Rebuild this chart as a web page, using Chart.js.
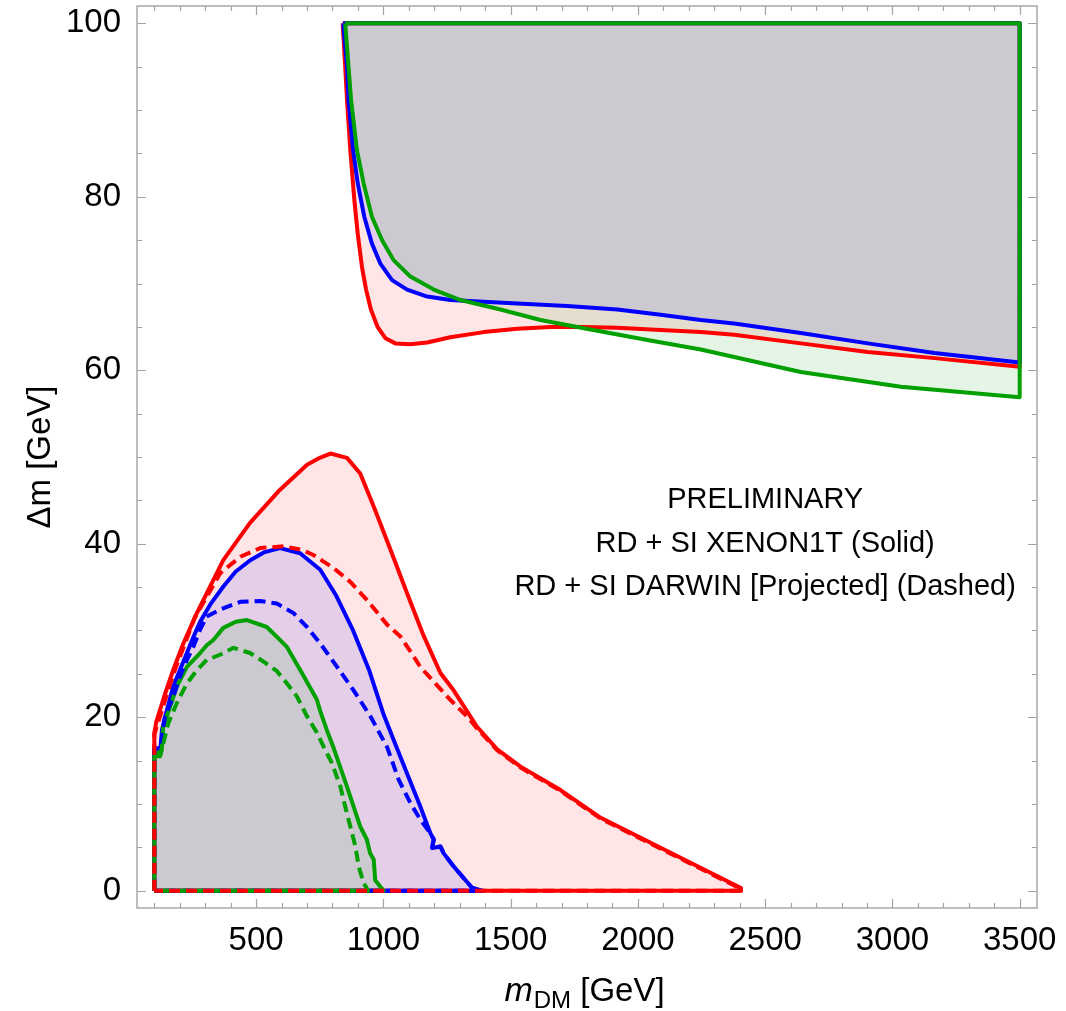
<!DOCTYPE html>
<html>
<head>
<meta charset="utf-8">
<script src="https://cdn.jsdelivr.net/npm/chart.js@4.4.0/dist/chart.umd.min.js"></script>
<style>
  html, body { margin: 0; padding: 0; background: #fff; }
  #wrap { width: 1066px; height: 1011px; }
</style>
</head>
<body>
<div id="wrap"><canvas id="dmChart" width="1066" height="1011"></canvas></div>
<script>
const fontFamily = "'Liberation Sans', Arial, sans-serif";

// axis ticks
const xMajorTicks = [500, 1000, 1500, 2000, 2500, 3000, 3500];
const xMinorTicks = [100, 200, 300, 400, 600, 700, 800, 900, 1100, 1200, 1300, 1400, 1600, 1700, 1800, 1900,
                     2100, 2200, 2300, 2400, 2600, 2700, 2800, 2900, 3100, 3200, 3300, 3400];
const yMajorTicks = [0, 20, 40, 60, 80, 100];
const yMinorTicks = [5, 10, 15, 25, 30, 35, 45, 50, 55, 65, 70, 75, 85, 90, 95];

// upper regions (boundary curve, then closed along top/right edge)
const redUpperX = [840, 850, 857, 870, 886, 899, 916, 932, 951, 977, 1008, 1047, 1106, 1172, 1263, 1394, 1526, 1657,
                   1788, 1919, 2050, 2247, 2378, 2640, 2903, 3165, 3500, 3500, 840];
const redUpperY = [100, 95.0, 91.2, 85.4, 79.6, 75.8, 71.9, 69.3, 67.0, 65.0, 63.7, 63.1, 63.0, 63.2, 63.8, 64.4, 64.8, 65.0,
                   65.0, 64.9, 64.7, 64.4, 64.1, 63.1, 62.1, 61.4, 60.4, 100, 100];

const blueUpperX = [842, 857, 863, 881, 899, 925, 955, 988, 1034, 1093, 1172, 1263, 1394, 1526, 1722, 1919, 2089, 2247,
                    2378, 2640, 2903, 3165, 3500, 3500, 842];
const blueUpperY = [100, 95.0, 91.2, 85.4, 81.6, 77.7, 74.6, 72.3, 70.4, 69.3, 68.5, 68.1, 67.9, 67.7, 67.4, 67.0, 66.4, 65.8,
                    65.4, 64.3, 63.1, 62.0, 60.9, 100, 100];

const greenUpperX = [850, 863, 873, 896, 922, 955, 995, 1040, 1106, 1198, 1303, 1460, 1617, 1814, 2037, 2247, 2640, 3033,
                     3500, 3500, 850];
const greenUpperY = [100, 95.0, 91.2, 85.4, 81.6, 77.7, 75.0, 72.7, 70.8, 69.3, 68.1, 67.0, 65.8, 64.7, 63.5, 62.4, 59.8, 58.1,
                     56.9, 100, 100];

// lower regions, XENON1T (solid)
const redSolidX = [100, 100, 108, 140, 175, 214, 267, 371, 476, 593, 700, 750, 792, 857, 909, 962, 1028, 1093, 1158, 1224,
                   1276, 1368, 1447, 1539, 1696, 1854, 2405, 2405, 100];
const redSolidY = [0, 18.2, 19.5, 22.5, 25.5, 28.5, 32.0, 38.1, 42.4, 46.2, 49.1, 49.9, 50.4, 49.9, 48.1, 44.3, 39.3, 34.3, 29.4, 25.1,
                   23.1, 18.9, 16.3, 14.3, 11.6, 8.4, 0.3, 0, 0];

const blueSolidX = [100, 100, 124, 130, 142, 175, 214, 250, 280, 320, 372, 420, 477, 530, 594, 673, 752, 815, 881, 943,
                    1001, 1040, 1093, 1145, 1185, 1198, 1191, 1224, 1237, 1276, 1349, 1390, 100];
const blueSolidY = [0, 16.4, 16.4, 18.5, 20.0, 23.6, 26.4, 29.0, 31.0, 33.0, 35.1, 36.8, 38.1, 39.0, 39.5, 38.9, 37.0, 34.0, 30.0, 25.5,
                    20.3, 17.4, 13.5, 9.7, 6.6, 5.9, 4.9, 5.1, 4.3, 2.8, 0.3, 0, 0];

const greenSolidX = [100, 100, 129, 135, 162, 188, 228, 280, 306, 332, 371, 420, 464, 542, 594, 621, 680, 739, 752, 778,
                     804, 857, 909, 935, 948, 962, 968, 1001, 100];
const greenSolidY = [0, 15.6, 16.2, 18.9, 21.2, 23.5, 25.8, 27.4, 28.3, 28.9, 30.3, 31.0, 31.2, 30.4, 28.9, 28.1, 25.1, 22.0, 20.7, 18.5,
                     16.5, 12.0, 7.4, 5.9, 4.3, 3.6, 1.2, 0, 0];

// lower regions, DARWIN projected (dashed)
const redDashX = [100, 100, 175, 214, 259, 300, 359, 438, 516, 608, 680, 725, 804, 870, 936, 1014, 1067, 1106, 1145, 1198,
                  1250, 1290, 1329, 1368, 1447, 1539, 1696, 1854, 2405, 2405, 100];
const redDashY = [0, 18.0, 25.0, 28.0, 31.5, 33.6, 36.6, 38.5, 39.5, 39.7, 39.3, 38.7, 37.2, 35.6, 33.5, 30.7, 29.3, 27.6, 25.8, 24.1,
                  22.4, 21.2, 20.1, 18.7, 16.2, 14.2, 11.5, 8.3, 0.2, 0, 0];

const blueDashX = [100, 100, 124, 142, 175, 201, 228, 253, 280, 306, 358, 438, 516, 581, 647, 700, 752, 818, 883, 949,
                   1014, 1060, 1106, 1145, 1185, 1198, 1191, 1224, 1237, 1276, 1349, 1390, 100];
const blueDashY = [0, 16.4, 16.4, 20.1, 22.4, 24.7, 26.6, 28.1, 30.1, 31.6, 32.4, 33.3, 33.4, 33.1, 32.0, 30.4, 28.5, 25.8, 23.1, 20.1,
                   16.6, 12.8, 10.1, 8.2, 6.6, 5.9, 4.9, 5.1, 4.3, 2.8, 0.3, 0, 0];

const greenDashX = [100, 100, 123, 155, 188, 228, 267, 306, 358, 411, 476, 529, 582, 621, 660, 700, 739, 765, 798, 831,
                    850, 870, 890, 903, 922, 940, 100];
const greenDashY = [0, 15.5, 15.5, 19.3, 21.6, 23.9, 25.4, 26.6, 27.2, 28.0, 27.4, 26.4, 25.3, 23.9, 22.4, 20.1, 18.2, 16.6, 14.7, 12.0,
                    9.7, 7.4, 5.1, 2.8, 0.9, 0, 0];

// text in the plot
const noteLines = ['PRELIMINARY', 'RD + SI XENON1T (Solid)', 'RD + SI DARWIN [Projected] (Dashed)'];
const noteX = 2500;
const noteY = [45, 40, 35];

const RED = 'rgb(255,0,0)', BLUE = 'rgb(0,0,255)', GREEN = 'rgb(0,160,0)';
const RED_FILL = 'rgba(255,0,0,0.1)', BLUE_FILL = 'rgba(0,0,255,0.1)', GREEN_FILL = 'rgba(0,160,0,0.1)';

function pts(xs, ys) {
    return xs.map((x, i) => ({ x: x, y: ys[i] }));
}

function region(xs, ys, color, fillColor, dashed) {
    return {
        data: pts(xs, ys),
        borderColor: color,
        backgroundColor: fillColor || 'rgba(0,0,0,0)',
        borderWidth: 4,
        borderDash: dashed ? [11, 6] : [],
        borderJoinStyle: 'round',
        fill: fillColor ? 'shape' : false,
        pointRadius: 0,
        tension: 0,
    };
}

// bottom to top
const datasets = [
    region(redUpperX, redUpperY, RED, RED_FILL),
    region(blueUpperX, blueUpperY, BLUE, BLUE_FILL),
    region(greenUpperX, greenUpperY, GREEN, GREEN_FILL),
    region(redSolidX, redSolidY, RED, RED_FILL),
    region(blueSolidX, blueSolidY, BLUE, BLUE_FILL),
    region(greenSolidX, greenSolidY, GREEN, GREEN_FILL),
    region(blueDashX, blueDashY, BLUE, null, true),
    region(greenDashX, greenDashY, GREEN, null, true),
    region(redDashX, redDashY, RED, null, true),
];
datasets.forEach((d, i) => { d.order = -i; });

// frame with inward ticks on all four sides
const frameTicks = {
    id: 'frameTicks',
    afterDatasetsDraw(chart) {
        const { ctx, chartArea: a, scales: { x, y } } = chart;
        ctx.save();
        ctx.strokeStyle = '#a3a3a3';
        ctx.lineWidth = 1.4;
        ctx.strokeRect(a.left, a.top, a.right - a.left, a.bottom - a.top);
        ctx.lineWidth = 1.2;
        ctx.beginPath();
        const xt = xMajorTicks.map(v => [v, 9]).concat(xMinorTicks.map(v => [v, 5]));
        xt.forEach(([v, len]) => {
            const px = Math.round(x.getPixelForValue(v)) + 0.5;
            ctx.moveTo(px, a.bottom); ctx.lineTo(px, a.bottom - len);
            ctx.moveTo(px, a.top); ctx.lineTo(px, a.top + len);
        });
        const yt = yMajorTicks.map(v => [v, 9]).concat(yMinorTicks.map(v => [v, 5]));
        yt.forEach(([v, len]) => {
            const py = Math.round(y.getPixelForValue(v)) + 0.5;
            ctx.moveTo(a.left, py); ctx.lineTo(a.left + len, py);
            ctx.moveTo(a.right, py); ctx.lineTo(a.right - len, py);
        });
        ctx.stroke();
        ctx.restore();
    }
};

const notes = {
    id: 'notes',
    afterDatasetsDraw(chart) {
        const { ctx, scales: { x, y } } = chart;
        ctx.save();
        ctx.font = '29px ' + fontFamily;
        ctx.fillStyle = '#000';
        ctx.textAlign = 'center';
        ctx.textBaseline = 'middle';
        noteLines.forEach((t, i) => {
            ctx.fillText(t, x.getPixelForValue(noteX), y.getPixelForValue(noteY[i]));
        });
        ctx.restore();
    }
};

// x title with subscript: m_DM [GeV]
const xTitle = {
    id: 'xTitle',
    afterDraw(chart) {
        const { ctx, chartArea: a } = chart;
        const parts = [
            { text: 'm', font: 'italic 34px ' + fontFamily, dy: 0 },
            { text: 'DM', font: '24px ' + fontFamily, dy: 7 },
            { text: ' [GeV]', font: '33px ' + fontFamily, dy: 0 },
        ];
        ctx.save();
        ctx.fillStyle = '#000';
        ctx.textBaseline = 'alphabetic';
        let total = 0;
        parts.forEach(p => { ctx.font = p.font; p.w = ctx.measureText(p.text).width; total += p.w; });
        let cx = (a.left + a.right) / 2 - 3 - total / 2;
        const base = a.bottom + 93;
        parts.forEach(p => {
            ctx.font = p.font;
            ctx.fillText(p.text, cx, base + p.dy);
            cx += p.w + (p.text === 'm' ? 1 : 0);
        });
        ctx.restore();
    }
};

const tickFont = { family: fontFamily, size: 33 };

new Chart(document.getElementById('dmChart').getContext('2d'), {
    type: 'line',
    data: { datasets: datasets },
    options: {
        responsive: false,
        animation: false,
        devicePixelRatio: 1,
        layout: { padding: { left: 0, right: 29, top: 6, bottom: 0 } },
        plugins: {
            legend: { display: false },
            tooltip: { enabled: false },
            filler: { drawTime: 'beforeDatasetsDraw' },
        },
        scales: {
            x: {
                type: 'linear',
                min: 32,
                max: 3568,
                grid: { display: false },
                border: { display: false },
                afterBuildTicks: s => { s.ticks = xMajorTicks.map(v => ({ value: v })); },
                afterFit: s => { s.height = 103; s.paddingLeft = 0; s.paddingRight = 0; },
                ticks: {
                    autoSkip: false,
                    maxRotation: 0,
                    padding: 5,
                    color: '#000',
                    font: tickFont,
                    callback: v => String(v),
                },
            },
            y: {
                type: 'linear',
                min: -2,
                max: 102,
                grid: { display: false },
                border: { display: false },
                afterBuildTicks: s => { s.ticks = yMajorTicks.map(v => ({ value: v })); },
                afterFit: s => { s.width = 137; s.paddingTop = 0; s.paddingBottom = 0; },
                ticks: {
                    autoSkip: false,
                    padding: 8,
                    color: '#000',
                    font: tickFont,
                    callback: v => String(v),
                },
                title: {
                    display: true,
                    text: 'Δm [GeV]',
                    color: '#000',
                    font: { family: fontFamily, size: 33 },
                    padding: { top: 21, bottom: 0 },
                },
            },
        },
    },
    plugins: [frameTicks, notes, xTitle],
});
</script>
</body>
</html>
